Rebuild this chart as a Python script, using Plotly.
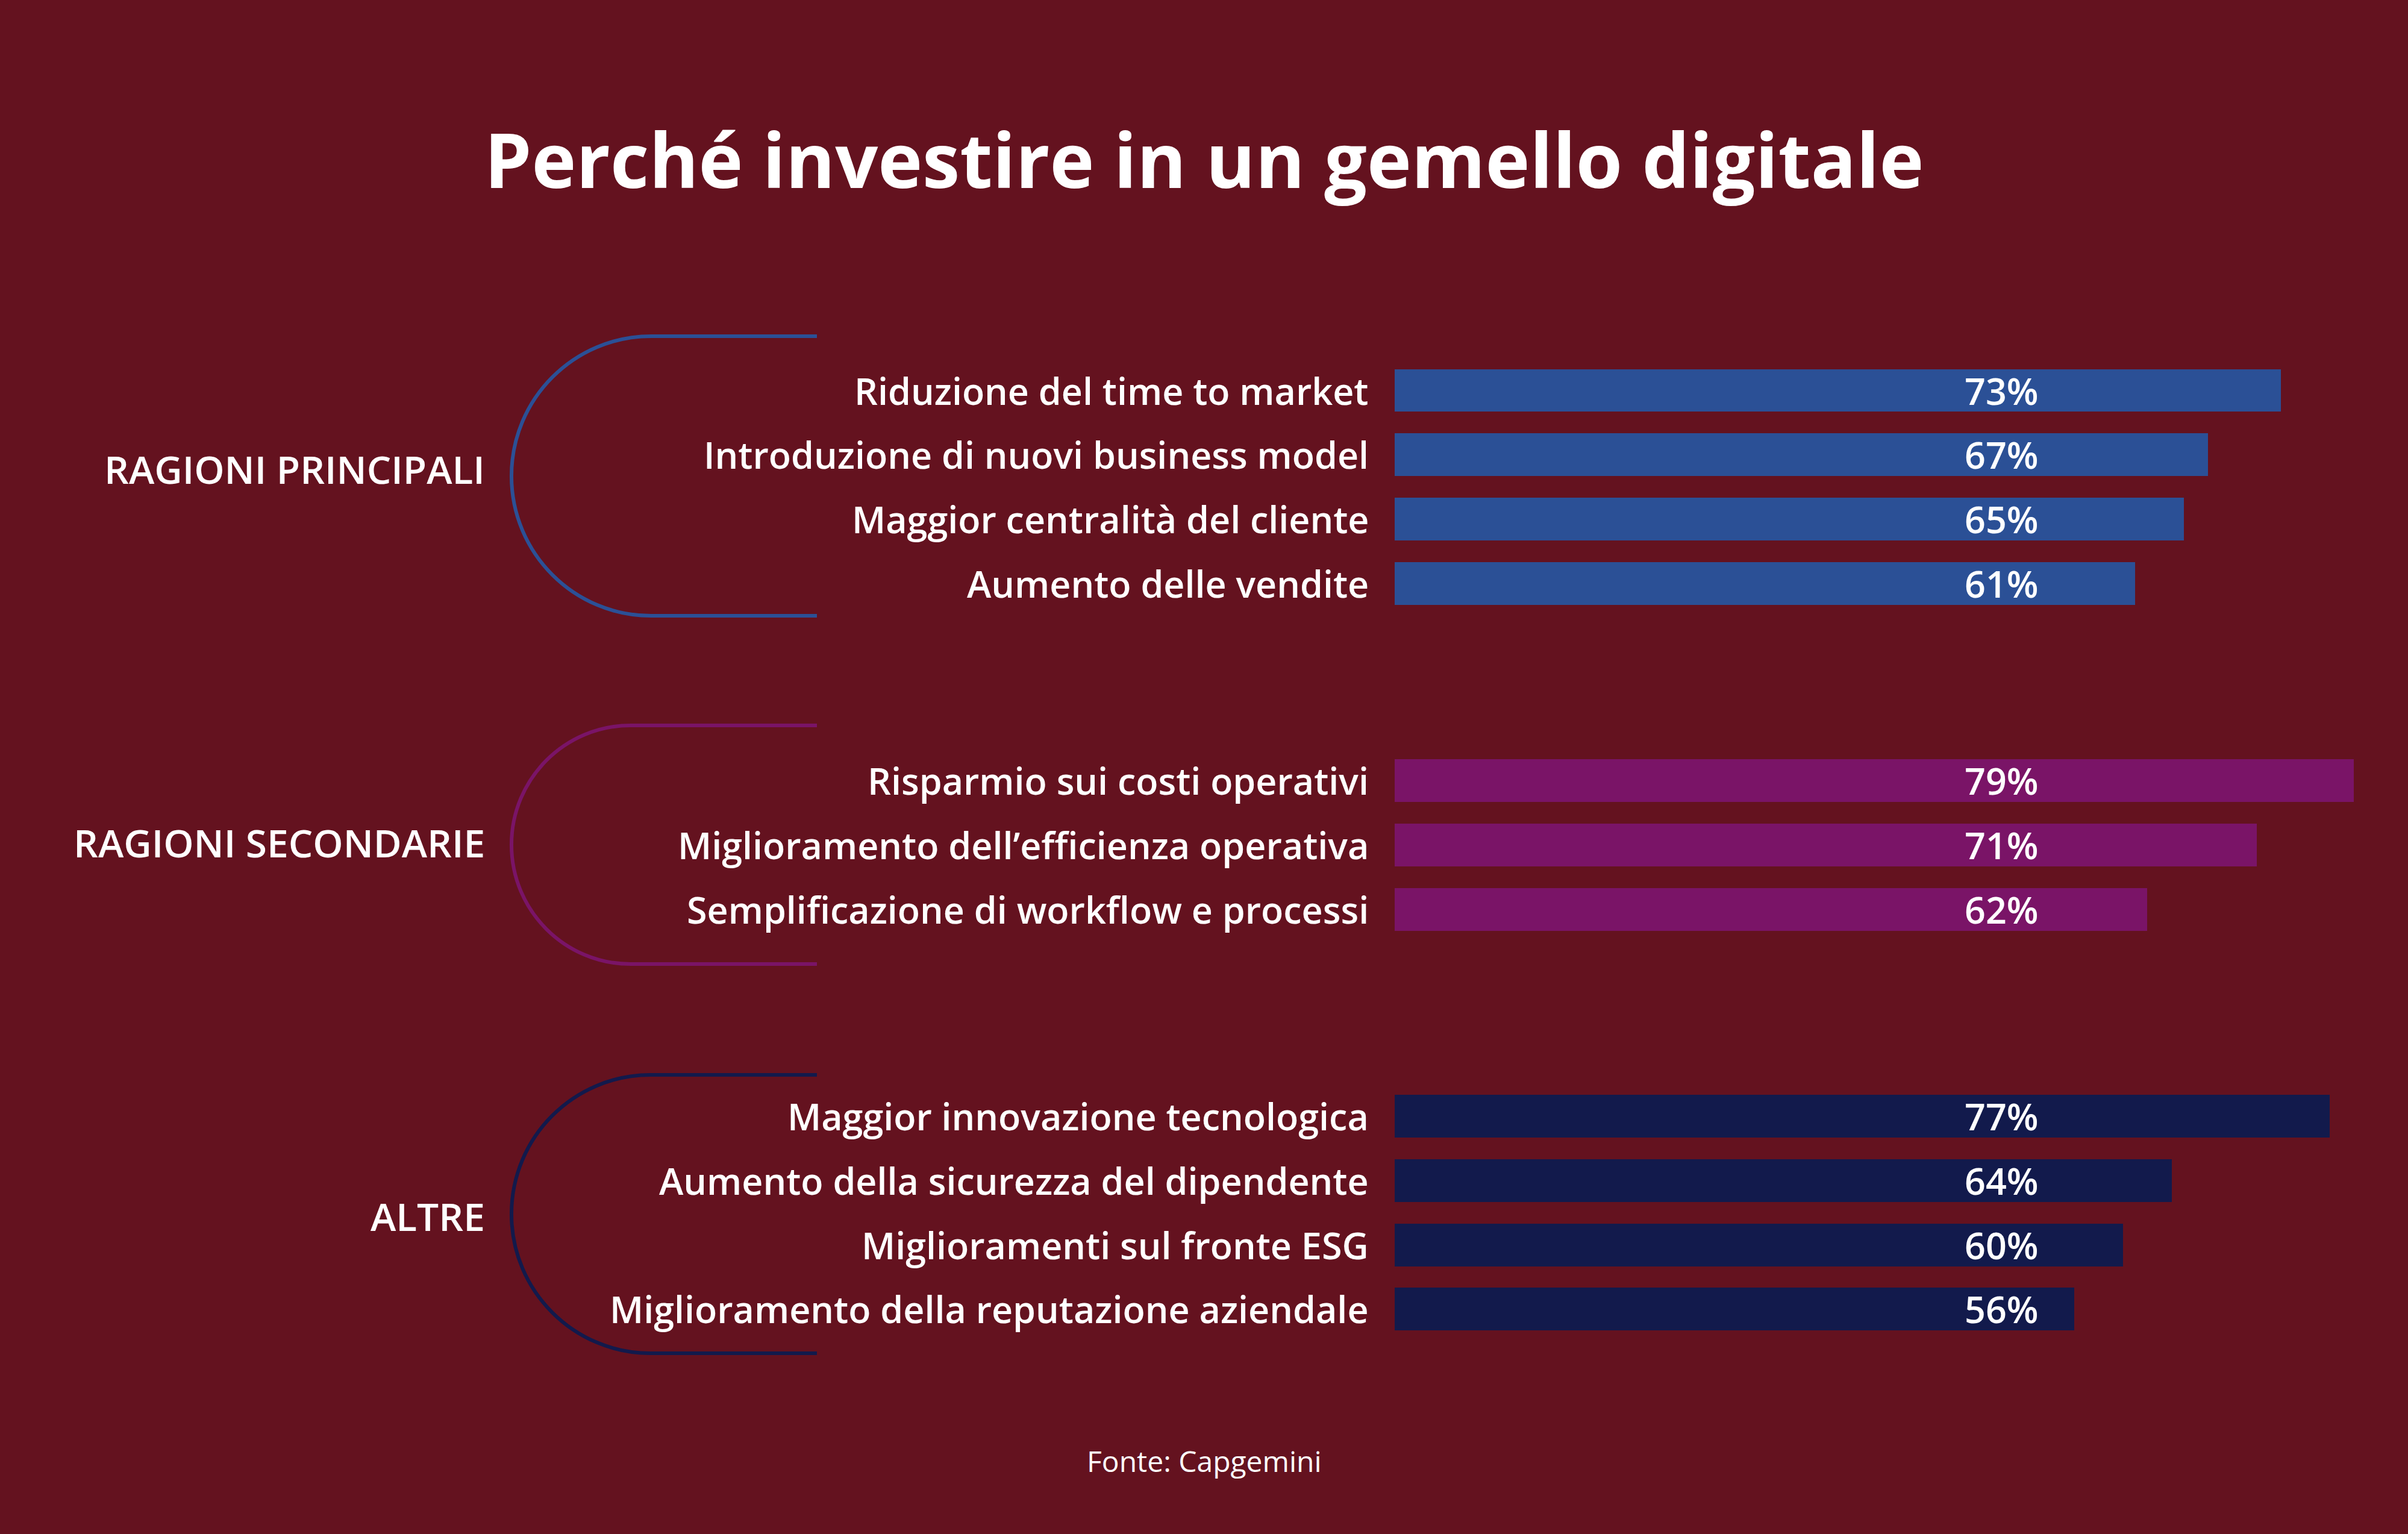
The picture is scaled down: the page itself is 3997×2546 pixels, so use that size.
import plotly.graph_objects as go

W, H = 3997, 2546
BG = "#64121F"
FONT = "'Open Sans', 'Noto Sans', sans-serif"

title_text = "Perché investire in un gemello digitale"
source_text = "Fonte: Capgemini"

group_names = ["RAGIONI PRINCIPALI", "RAGIONI SECONDARIE", "ALTRE"]
group_colors = ["#2B5096", "#7A1467", "#121A4C"]

cats_principali = ["Riduzione del time to market", "Introduzione di nuovi business model",
                   "Maggior centralità del cliente", "Aumento delle vendite"]
vals_principali = [73, 67, 65, 61]

cats_secondarie = ["Risparmio sui costi operativi", "Miglioramento dell’efficienza operativa",
                   "Semplificazione di workflow e processi"]
vals_secondarie = [79, 71, 62]

cats_altre = ["Maggior innovazione tecnologica", "Aumento della sicurezza del dipendente",
              "Miglioramenti sul fronte ESG", "Miglioramento della reputazione aziendale"]
vals_altre = [77, 64, 60, 56]

groups = [(cats_principali, vals_principali), (cats_secondarie, vals_secondarie), (cats_altre, vals_altre)]

# ---- layout geometry (pixels) ----
X0_PX, X_UNIT = 2315, 20.15      # x pixel of 0 %, pixels per 1 %
Y0_PX, Y_UNIT = 648, 106.7       # y pixel of first bar centre, pixels per row
group_start_rows = [0, 6.07, 11.29]
BAR_W = 0.665
PCT_X = (3385 - X0_PX) / X_UNIT
LABEL_X = (2274 - X0_PX) / X_UNIT

# bracket geometry: (top y, bottom y) in px, and group label centre y
brackets = [(558, 1022), (1204, 1600), (1784, 2246)]
group_label_y = [778, 1398, 2018]
BRACKET_LEFT = 849
BRACKET_RIGHT = 1356

TXT = 61
WEIGHT = 600


def px(xp):
    return xp / W


def py(yp):
    return 1 - yp / H


fig = go.Figure()
annotations = []
shapes = []

for gi, (cats, vals) in enumerate(groups):
    ys = [group_start_rows[gi] + i for i in range(len(cats))]
    fig.add_trace(go.Bar(
        x=vals, y=ys, orientation="h", width=BAR_W,
        marker=dict(color=group_colors[gi], line=dict(width=0)),
        hoverinfo="skip", showlegend=False,
    ))
    for c, v, y in zip(cats, vals, ys):
        annotations.append(dict(x=LABEL_X, y=y, xref="x", yref="y", text=c, showarrow=False,
                                xanchor="right", yanchor="middle",
                                font=dict(family=FONT, size=TXT, color="white", weight=WEIGHT)))
        annotations.append(dict(x=PCT_X, y=y, xref="x", yref="y", text=f"{v}%", showarrow=False,
                                xanchor="right", yanchor="middle",
                                font=dict(family=FONT, size=TXT, color="white", weight=WEIGHT)))
    top, bot = brackets[gi]
    r = (bot - top) / 2
    cy = (top + bot) / 2
    cx = BRACKET_LEFT + r
    k = 0.5523 * r
    pts = [
        f"M {px(BRACKET_RIGHT)},{py(top)}",
        f"L {px(cx)},{py(top)}",
        f"C {px(cx - k)},{py(top)} {px(cx - r)},{py(cy - k)} {px(cx - r)},{py(cy)}",
        f"C {px(cx - r)},{py(cy + k)} {px(cx - k)},{py(bot)} {px(cx)},{py(bot)}",
        f"L {px(BRACKET_RIGHT)},{py(bot)}",
    ]
    shapes.append(dict(type="path", path=" ".join(pts), xref="paper", yref="paper",
                       line=dict(color=group_colors[gi], width=6)))
    annotations.append(dict(x=px(807), y=py(group_label_y[gi]), xref="paper", yref="paper",
                            text=group_names[gi], showarrow=False, xanchor="right", yanchor="middle",
                            font=dict(family=FONT, size=64, color="white", weight=WEIGHT)))

annotations.append(dict(x=0.5, y=py(263), xref="paper", yref="paper", text=f"<b>{title_text}</b>",
                        showarrow=False, xanchor="center", yanchor="middle",
                        font=dict(family=FONT, size=125, color="white")))
annotations.append(dict(x=0.5, y=py(2424), xref="paper", yref="paper", text=source_text,
                        showarrow=False, xanchor="center", yanchor="middle",
                        font=dict(family=FONT, size=48, color="white")))

fig.update_layout(
    width=W, height=H,
    margin=dict(l=0, r=0, t=0, b=0, pad=0),
    paper_bgcolor=BG, plot_bgcolor=BG,
    xaxis=dict(range=[-X0_PX / X_UNIT, (W - X0_PX) / X_UNIT], visible=False, fixedrange=True),
    yaxis=dict(range=[(H - Y0_PX) / Y_UNIT, -Y0_PX / Y_UNIT], visible=False, fixedrange=True),
    bargap=0,
    annotations=annotations,
    shapes=shapes,
    showlegend=False,
)

fig.write_html("out.html", config={"displayModeBar": False},
               post_script="document.body.style.margin='0';document.body.style.background='#64121F';")
